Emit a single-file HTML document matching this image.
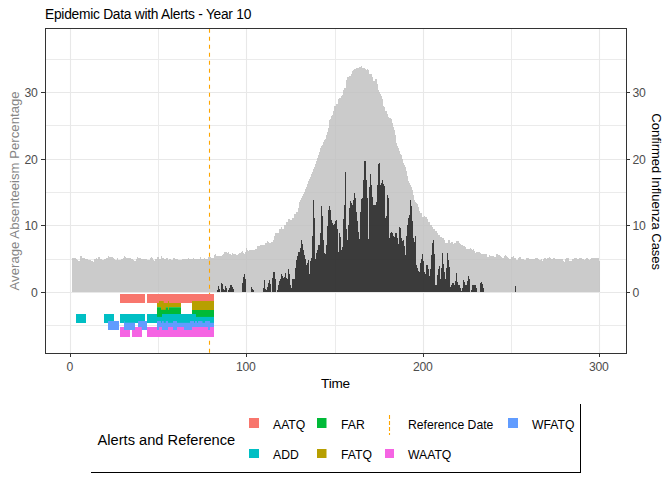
<!DOCTYPE html>
<html><head><meta charset="utf-8"><style>
html,body{margin:0;padding:0;background:#fff;}
svg{display:block;}
text{font-family:"Liberation Sans",sans-serif;}
.ax{font-size:12.2px;fill:#4D4D4D;letter-spacing:-0.3px;}
.lg{font-size:12.2px;fill:#000;}
</style></head><body>
<svg width="672" height="480" viewBox="0 0 672 480">
<rect x="0" y="0" width="672" height="480" fill="#fff"/>
<text x="45" y="18.7" font-size="13.8" letter-spacing="-0.27" fill="#000">Epidemic Data with Alerts - Year 10</text>
<line x1="158.5" y1="28" x2="158.5" y2="353" stroke="#EBEBEB" stroke-width="1"/>
<line x1="335.5" y1="28" x2="335.5" y2="353" stroke="#EBEBEB" stroke-width="1"/>
<line x1="511.5" y1="28" x2="511.5" y2="353" stroke="#EBEBEB" stroke-width="1"/>
<line x1="45" y1="325.5" x2="626" y2="325.5" stroke="#EBEBEB" stroke-width="1"/>
<line x1="45" y1="259.5" x2="626" y2="259.5" stroke="#EBEBEB" stroke-width="1"/>
<line x1="45" y1="192.5" x2="626" y2="192.5" stroke="#EBEBEB" stroke-width="1"/>
<line x1="45" y1="125.5" x2="626" y2="125.5" stroke="#EBEBEB" stroke-width="1"/>
<line x1="45" y1="59.5" x2="626" y2="59.5" stroke="#EBEBEB" stroke-width="1"/>
<line x1="70.5" y1="28" x2="70.5" y2="353" stroke="#E8E8E8" stroke-width="1.1"/>
<line x1="246.5" y1="28" x2="246.5" y2="353" stroke="#E8E8E8" stroke-width="1.1"/>
<line x1="423.5" y1="28" x2="423.5" y2="353" stroke="#E8E8E8" stroke-width="1.1"/>
<line x1="599.5" y1="28" x2="599.5" y2="353" stroke="#E8E8E8" stroke-width="1.1"/>
<line x1="45" y1="292.5" x2="626" y2="292.5" stroke="#E8E8E8" stroke-width="1.1"/>
<line x1="45" y1="225.5" x2="626" y2="225.5" stroke="#E8E8E8" stroke-width="1.1"/>
<line x1="45" y1="159.5" x2="626" y2="159.5" stroke="#E8E8E8" stroke-width="1.1"/>
<line x1="45" y1="92.5" x2="626" y2="92.5" stroke="#E8E8E8" stroke-width="1.1"/>
<path d="M72,292V258H73V258H74V258H75V258H76V259H77V260H78V261H79V261H80V256H81V256H82V258H83V258H84V258H85V259H86V259H87V259H88V260H89V260H90V260H91V261H92V261H93V262H94V259H95V259H96V258H97V259H98V257H99V257H100V259H101V259H102V260H103V260H104V259H105V259H106V258H107V258H108V256H109V257H110V257H111V257H112V257H113V258H114V259H115V260H116V260H117V258H118V260H119V260H120V260H121V259H122V259H123V258H124V256H125V257H126V258H127V258H128V258H129V258H130V258H131V259H132V259H133V260H134V261H135V261H136V259H137V257H138V258H139V258H140V258H141V259H142V259H143V259H144V259H145V259H146V259H147V260H148V260H149V260H150V258H151V257H152V258H153V260H154V261H155V259H156V259H157V257H158V257H159V259H160V259H161V256H162V258H163V258H164V259H165V259H166V258H167V258H168V260H169V259H170V259H171V260H172V260H173V258H174V258H175V259H176V259H177V259H178V260H179V260H180V260H181V260H182V259H183V259H184V259H185V259H186V259H187V259H188V258H189V259H190V259H191V259H192V259H193V258H194V259H195V259H196V259H197V259H198V259H199V259H200V257H201V259H202V259H203V259H204V258H205V259H206V259H207V259H208V257H209V257H210V257H211V258H212V258H213V258H214V255H215V254H216V256H217V256H218V256H219V256H220V256H221V256H222V255H223V254H224V252H225V252H226V252H227V253H228V252H229V254H230V254H231V255H232V253H233V254H234V254H235V254H236V255H237V255H238V254H239V253H240V253H241V252H242V251H243V253H244V254H245V252H246V248H247V250H248V251H249V250H250V250H251V250H252V250H253V250H254V250H255V249H256V249H257V246H258V246H259V246H260V245H261V245H262V245H263V245H264V245H265V243H266V243H267V241H268V242H269V243H270V243H271V242H272V242H273V240H274V236H275V233H276V233H277V233H278V233H279V229H280V229H281V227H282V229H283V229H284V225H285V225H286V222H287V222H288V219H289V219H290V220H291V220H292V218H293V218H294V214H295V214H296V212H297V212H298V208H299V202H300V200H301V198H302V196H303V194H304V192H305V189H306V187H307V184H308V181H309V179H310V177H311V174H312V172H313V169H314V167H315V164H316V161H317V158H318V155H319V152H320V148H321V146H322V145H323V142H324V140H325V139H326V135H327V132H328V128H329V120H330V119H331V116H332V115H333V111H334V106H335V106H336V104H337V104H338V99H339V98H340V98H341V96H342V95H343V90H344V88H345V88H346V80H347V77H348V77H349V76H350V76H351V74H352V71H353V70H354V69H355V69H356V68H357V68H358V68H359V67H360V67H361V66H362V68H363V68H364V68H365V69H366V70H367V69H368V70H369V74H370V74H371V74H372V77H373V81H374V81H375V79H376V79H377V84H378V90H379V92H380V94H381V96H382V99H383V106H384V107H385V111H386V111H387V114H388V117H389V118H390V118H391V119H392V123H393V127H394V130H395V135H396V143H397V146H398V148H399V151H400V154H401V155H402V159H403V163H404V165H405V167H406V171H407V176H408V181H409V183H410V185H411V187H412V190H413V195H414V200H415V202H416V203H417V204H418V207H419V211H420V213H421V213H422V217H423V217H424V216H425V217H426V217H427V219H428V222H429V222H430V225H431V225H432V227H433V229H434V229H435V231H436V231H437V233H438V235H439V235H440V237H441V237H442V238H443V238H444V240H445V243H446V243H447V243H448V240H449V240H450V243H451V242H452V242H453V244H454V243H455V243H456V241H457V241H458V241H459V243H460V244H461V245H462V245H463V246H464V246H465V247H466V249H467V249H468V249H469V249H470V248H471V249H472V250H473V249H474V251H475V253H476V252H477V252H478V252H479V252H480V253H481V254H482V254H483V254H484V254H485V254H486V254H487V257H488V257H489V255H490V256H491V256H492V256H493V256H494V257H495V257H496V254H497V254H498V255H499V255H500V256H501V257H502V258H503V258H504V256H505V255H506V256H507V257H508V258H509V259H510V259H511V257H512V257H513V256H514V258H515V258H516V260H517V260H518V258H519V257H520V257H521V259H522V259H523V259H524V260H525V260H526V258H527V258H528V258H529V259H530V259H531V259H532V259H533V259H534V259H535V258H536V258H537V258H538V259H539V260H540V260H541V259H542V261H543V259H544V258H545V258H546V259H547V258H548V258H549V257H550V258H551V259H552V259H553V258H554V258H555V259H556V259H557V259H558V259H559V259H560V259H561V259H562V259H563V261H564V262H565V259H566V258H567V258H568V258H569V261H570V261H571V261H572V259H573V259H574V258H575V258H576V258H577V259H578V259H579V258H580V258H581V258H582V259H583V259H584V260H585V259H586V258H587V258H588V259H589V260H590V259H591V258H592V258H593V258H594V258H595V258H596V258H597V258H598V258H599V261H600V292Z" fill="#BEBEBE" fill-opacity="0.8" shape-rendering="crispEdges"/>
<path d="M214,292V292H215V292H216V292H217V290H218V286H219V289H220V292H221V283H222V284H223V289H224V290H225V286H226V288H227V292H228V290H229V288H230V285H231V285H232V287H233V289H234V292H235V292H236V292H237V292H238V292H239V292H240V292H241V292H242V283H243V277H244V274H245V279H246V292H247V292H248V292H249V292H250V292H251V287H252V289H253V290H254V292H255V292H256V292H257V292H258V292H259V292H260V292H261V292H262V292H263V288H264V280H265V289H266V290H267V287H268V283H269V280H270V284H271V292H272V278H273V272H274V272H275V279H276V292H277V290H278V285H279V281H280V279H281V274H282V276H283V278H284V277H285V273H286V278H287V279H288V269H289V274H290V285H291V288H292V279H293V279H294V279H295V268H296V260H297V256H298V252H299V252H300V248H301V240H302V244H303V250H304V255H305V259H306V265H307V263H308V260H309V274H310V261H311V258H312V236H313V200H314V218H315V259H316V253H317V250H318V245H319V245H320V233H321V206H322V216H323V240H324V253H325V254H326V245H327V226H328V210H329V206H330V210H331V220H332V223H333V225H334V224H335V221H336V220H337V229H338V252H339V233H340V237H341V250H342V247H343V219H344V205H345V172H346V229H347V240H348V225H349V208H350V201H351V203H352V205H353V200H354V193H355V198H356V212H357V221H358V232H359V239H360V212H361V199H362V198H363V180H364V161H365V161H366V180H367V198H368V239H369V187H370V174H371V185H372V197H373V205H374V205H375V205H376V202H377V185H378V164H379V163H380V185H381V183H382V180H383V184H384V186H385V218H386V216H387V195H388V198H389V238H390V233H391V232H392V233H393V236H394V237H395V233H396V233H397V238H398V244H399V227H400V228H401V238H402V241H403V240H404V246H405V255H406V236H407V225H408V218H409V215H410V200H411V206H412V221H413V238H414V242H415V236H416V265H417V268H418V271H419V272H420V263H421V259H422V254H423V261H424V272H425V274H426V265H427V265H428V269H429V276H430V269H431V255H432V243H433V240H434V254H435V285H436V285H437V275H438V269H439V266H440V279H441V268H442V253H443V264H444V272H445V279H446V268H447V253H448V260H449V267H450V287H451V285H452V283H453V283H454V285H455V281H456V273H457V282H458V285H459V285H460V288H461V291H462V288H463V280H464V282H465V285H466V285H467V281H468V276H469V279H470V292H471V290H472V285H473V285H474V285H475V285H476V288H477V292H478V292H479V292H480V283H481V282H482V284H483V288H484V292H485V292H486V292H487V292H488V292H489V292H490V292H491V292H492V292H493V292H494V292H495V292H496V292H497V292H498V292H499V292H500V292H501V292H502V292H503V292H504V292H505V292H506V292H507V292H508V292H509V292H510V292H511V292H512V292H513V292H514V292H515V286H516V292H517V292H518V292H519V292H520V292Z" fill="#333333" fill-opacity="0.95" shape-rendering="crispEdges"/>
<line x1="209.5" y1="28.8" x2="209.5" y2="353" stroke="#FFA500" stroke-width="1.1" stroke-dasharray="4 4"/>
<rect x="120" y="294" width="25" height="9" fill="#F8766D"/>
<rect x="147" y="294" width="67" height="9" fill="#F8766D"/>
<rect x="120" y="327" width="10" height="10" fill="#F564E3"/>
<rect x="132" y="327" width="10" height="10" fill="#F564E3"/>
<rect x="147" y="327" width="67" height="10" fill="#F564E3"/>
<rect x="76" y="314" width="10" height="9" fill="#00BFC4"/>
<rect x="104" y="314" width="10" height="9" fill="#00BFC4"/>
<rect x="120" y="314" width="25" height="9" fill="#00BFC4"/>
<rect x="147" y="314" width="67" height="9" fill="#00BFC4"/>
<rect x="108" y="321" width="11" height="9" fill="#619CFF"/>
<rect x="124" y="321" width="11" height="9" fill="#619CFF"/>
<rect x="138" y="321" width="9" height="9" fill="#619CFF"/>
<rect x="157" y="322.8" width="57" height="4.199999999999989" fill="#619CFF"/>
<rect x="157" y="321" width="4" height="2" fill="#619CFF"/>
<rect x="162" y="321" width="1.6999999999999886" height="2" fill="#619CFF"/>
<rect x="165.8" y="321" width="2.1999999999999886" height="2" fill="#619CFF"/>
<rect x="173" y="321" width="4" height="2" fill="#619CFF"/>
<rect x="190" y="321" width="4" height="2" fill="#619CFF"/>
<rect x="198" y="321" width="2.5999999999999943" height="2" fill="#619CFF"/>
<rect x="157" y="327" width="2" height="3" fill="#619CFF"/>
<rect x="162" y="327" width="6" height="3" fill="#619CFF"/>
<rect x="173" y="327" width="4" height="3" fill="#619CFF"/>
<rect x="184" y="327" width="8" height="3" fill="#619CFF"/>
<rect x="175" y="327" width="2" height="3" fill="#619CFF"/>
<rect x="184" y="327" width="8" height="3" fill="#619CFF"/>
<rect x="208" y="327" width="2" height="3" fill="#619CFF"/>
<rect x="195" y="321" width="2" height="2" fill="#619CFF"/>
<rect x="199.5" y="321" width="3.0" height="2" fill="#619CFF"/>
<rect x="205" y="321" width="5" height="2" fill="#619CFF"/>
<rect x="157" y="303" width="24" height="4.199999999999989" fill="#B79F00"/>
<rect x="159" y="301" width="4.699999999999989" height="2" fill="#B79F00"/>
<rect x="168" y="301" width="1" height="2" fill="#B79F00"/>
<rect x="192" y="301" width="22" height="9" fill="#B79F00"/>
<rect x="157" y="307.2" width="24" height="6.800000000000011" fill="#00BA38"/>
<rect x="157" y="314" width="5" height="2.8999999999999773" fill="#00BA38"/>
<rect x="161" y="307" width="4.800000000000011" height="2.8000000000000114" fill="#B79F00"/>
<rect x="168" y="307" width="1" height="2.8000000000000114" fill="#B79F00"/>
<rect x="192" y="310" width="22" height="4" fill="#00BA38"/>
<rect x="196" y="314" width="18" height="2.8999999999999773" fill="#00BA38"/>
<rect x="124.5" y="321" width="10.5" height="1.6999999999999886" fill="#00BFC4"/>
<rect x="138" y="327" width="3.6999999999999886" height="3" fill="#F564E3"/>
<rect x="45.5" y="28.5" width="581" height="325" fill="none" stroke="#333333" stroke-width="1"/>
<line x1="70.5" y1="353" x2="70.5" y2="357" stroke="#333" stroke-width="1"/>
<text x="69.7" y="371" text-anchor="middle" class="ax">0</text>
<line x1="246.5" y1="353" x2="246.5" y2="357" stroke="#333" stroke-width="1"/>
<text x="245.7" y="371" text-anchor="middle" class="ax">100</text>
<line x1="423.5" y1="353" x2="423.5" y2="357" stroke="#333" stroke-width="1"/>
<text x="422.7" y="371" text-anchor="middle" class="ax">200</text>
<line x1="599.5" y1="353" x2="599.5" y2="357" stroke="#333" stroke-width="1"/>
<text x="598.7" y="371" text-anchor="middle" class="ax">300</text>
<line x1="41" y1="292.5" x2="45" y2="292.5" stroke="#333" stroke-width="1"/>
<text x="37.5" y="296.7" text-anchor="end" class="ax">0</text>
<line x1="626" y1="292.5" x2="630" y2="292.5" stroke="#333" stroke-width="1"/>
<text x="632.6" y="296.7" text-anchor="start" class="ax">0</text>
<line x1="41" y1="225.5" x2="45" y2="225.5" stroke="#333" stroke-width="1"/>
<text x="37.5" y="229.7" text-anchor="end" class="ax">10</text>
<line x1="626" y1="225.5" x2="630" y2="225.5" stroke="#333" stroke-width="1"/>
<text x="632.6" y="229.7" text-anchor="start" class="ax">10</text>
<line x1="41" y1="159.5" x2="45" y2="159.5" stroke="#333" stroke-width="1"/>
<text x="37.5" y="163.7" text-anchor="end" class="ax">20</text>
<line x1="626" y1="159.5" x2="630" y2="159.5" stroke="#333" stroke-width="1"/>
<text x="632.6" y="163.7" text-anchor="start" class="ax">20</text>
<line x1="41" y1="92.5" x2="45" y2="92.5" stroke="#333" stroke-width="1"/>
<text x="37.5" y="96.7" text-anchor="end" class="ax">30</text>
<line x1="626" y1="92.5" x2="630" y2="92.5" stroke="#333" stroke-width="1"/>
<text x="632.6" y="96.7" text-anchor="start" class="ax">30</text>
<text x="335.5" y="388" text-anchor="middle" font-size="13.6" letter-spacing="-0.2" fill="#000">Time</text>
<text transform="translate(19.4,190.9) rotate(-90)" text-anchor="middle" font-size="13.2" fill="#858585">Average Absenteeism Percentage</text>
<text transform="translate(651.7,191.7) rotate(90)" text-anchor="middle" font-size="13" fill="#000">Confirmed Influenza Cases</text>
<text x="97.5" y="445" font-size="14.67" fill="#000">Alerts and Reference</text>
<rect x="249" y="418" width="10" height="10" fill="#F8766D"/>
<rect x="249" y="449" width="10" height="9" fill="#00BFC4"/>
<rect x="317" y="418" width="9.5" height="10" fill="#00BA38"/>
<rect x="317" y="449" width="9.5" height="9" fill="#B79F00"/>
<line x1="389.5" y1="415" x2="389.5" y2="435" stroke="#FFA500" stroke-width="1.1" stroke-dasharray="4 2"/>
<rect x="385" y="449" width="9" height="9" fill="#F564E3"/>
<rect x="508" y="418" width="10" height="10" fill="#619CFF"/>
<text x="273" y="429" class="lg">AATQ</text>
<text x="273" y="459.2" class="lg">ADD</text>
<text x="341" y="429" class="lg">FAR</text>
<text x="341" y="459.2" class="lg">FATQ</text>
<text x="408" y="429" class="lg">Reference Date</text>
<text x="408" y="459.2" class="lg">WAATQ</text>
<text x="532" y="429" class="lg">WFATQ</text>
<line x1="91" y1="472.5" x2="581" y2="472.5" stroke="#000" stroke-width="1"/>
<line x1="580.5" y1="404" x2="580.5" y2="473" stroke="#000" stroke-width="1"/>
</svg>
</body></html>
